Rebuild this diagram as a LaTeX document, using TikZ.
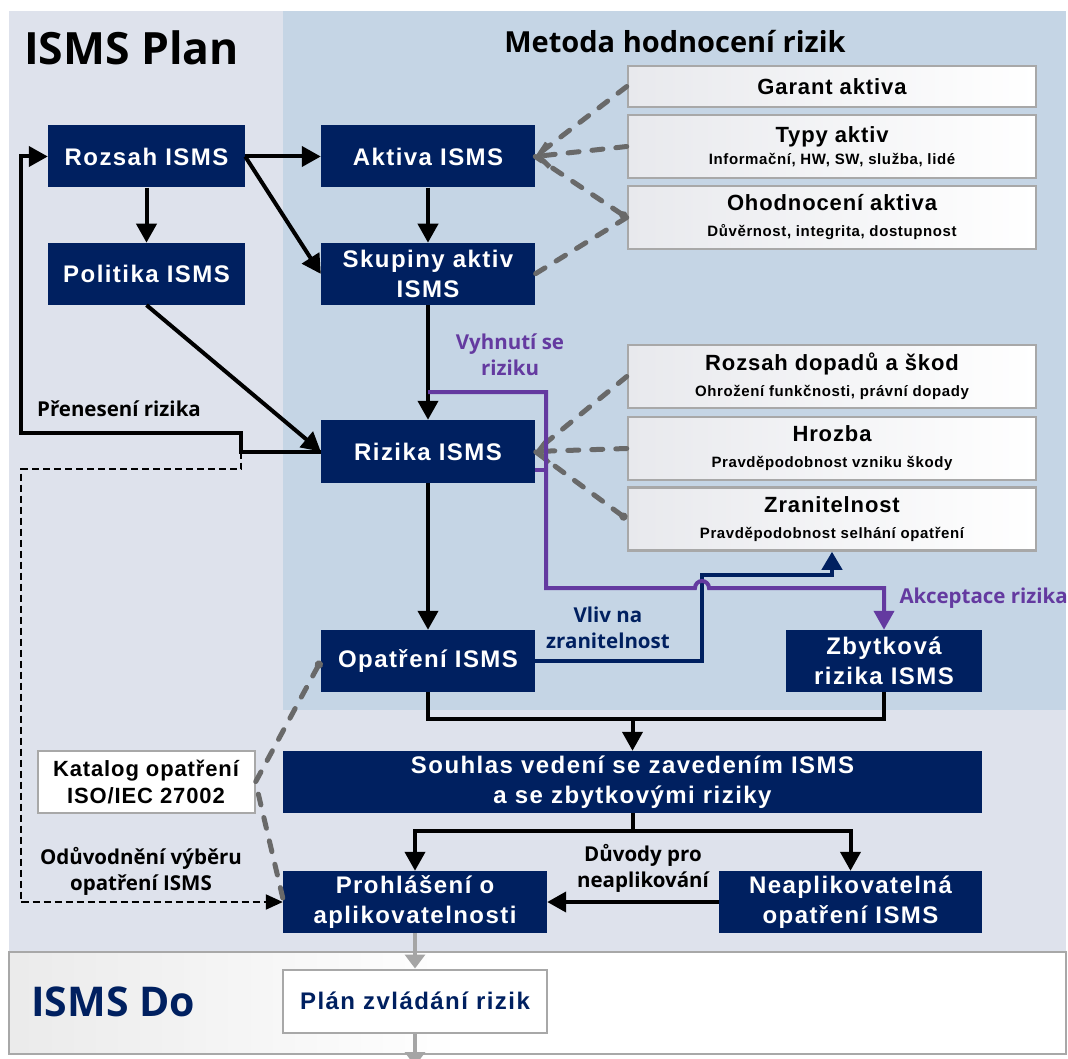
\documentclass[tikz,border=0pt]{standalone}
\usepackage{fontspec}
\setmainfont{Liberation Sans}
\newfontfamily\boxfont[LetterSpace=6]{Liberation Sans}
\newfontfamily\infofont[LetterSpace=4]{Liberation Sans}
\newfontfamily\headfont{Open Sans}
\usepackage{tikz}
\usetikzlibrary{arrows.meta,positioning}
\definecolor{navy}{RGB}{0,32,96}
\definecolor{planbg}{RGB}{222,226,236}
\definecolor{metodabg}{RGB}{197,213,229}
\definecolor{purp}{RGB}{100,58,160}
\definecolor{boxgray}{RGB}{168,168,168}
\definecolor{dashgray}{RGB}{105,105,105}
\definecolor{arrgray}{RGB}{165,165,165}
\definecolor{infogray}{RGB}{232,233,237}
\newcommand{\infosub}[1]{{\fontsize{15}{18}\selectfont #1}}
\tikzset{
  navybox/.style={rectangle, fill=navy, text=white, align=center, inner sep=0pt,
                  font=\boxfont\bfseries\fontsize{24}{30}\selectfont},
  whitebox/.style={rectangle, draw=boxgray, line width=2pt, fill=white, align=center,
                   inner sep=0pt, font=\infofont\bfseries\fontsize{22}{27}\selectfont},
  infobox/.style={rectangle, draw=boxgray, line width=2.5pt, left color=infogray,
                  right color=white, align=center, inner sep=0pt,
                  minimum width=408pt, minimum height=63pt,
                  font=\infofont\bfseries\fontsize{22}{26}\selectfont},
  lbl/.style={font=\headfont\bfseries\fontsize{20.5}{26}\selectfont, align=center, inner sep=0pt},
  headlbl/.style={font=\headfont\bfseries\fontsize{41}{48}\selectfont, inner sep=0pt},
  wire/.style={line width=4pt},
  arr/.style={-{Triangle[length=19pt,width=20pt]}, line width=4pt},
  purparr/.style={-{Triangle[length=19pt,width=20pt]}, draw=purp, line width=4pt},
  navyarr/.style={-{Triangle[length=18pt,width=20pt]}, draw=navy, line width=4pt},
  dasharr/.style={-{Triangle[length=17pt,width=15pt]}, line width=2pt, dash pattern=on 7pt off 4pt},
  grayarr/.style={-{Triangle[length=14pt,width=20pt]}, draw=arrgray, line width=4pt},
  link/.style={draw=dashgray, line width=5pt, dash pattern=on 11pt off 13pt, line cap=round},
  linkarr/.style={link, -{Straight Barb[length=10pt,width=24pt]}},
  linkdot/.style={link, {Circle[length=8pt]}-},
}
\begin{document}
\begin{tikzpicture}[x=1pt,y=-1pt]
  \useasboundingbox (0,0) rectangle (1068,1059);
  \fill[planbg] (9,11) rectangle (1066,952);
  \fill[metodabg] (283,11) rectangle (1066,710);
  \fill[white] (9,952) rectangle (1066,1054);
  \shade[left color=black!8, right color=white] (9,952) rectangle (460,1054);
  \draw[boxgray, line width=2pt] (9,952) rectangle (1066,1054);

  \node[headlbl, anchor=west, font=\headfont\bfseries\fontsize{44.5}{50}\selectfont] (plantitle) at (24,48) {ISMS Plan};
  \node[headlbl, anchor=west, text=navy] (dotitle) at (31,1002) {ISMS Do};
  \node[lbl, font=\headfont\bfseries\fontsize{29}{34}\selectfont] (metoda) at (675,42) {Metoda hodnocení rizik};

  \node[navybox, minimum width=197pt, minimum height=62pt] (rozsah) at (146.5,156.5) {Rozsah ISMS};
  \node[navybox, minimum width=197pt, minimum height=62pt, below=55pt of rozsah] (politika) {Politika ISMS};
  \node[navybox, minimum width=214pt, minimum height=62pt] (aktiva) at (428,156.5) {Aktiva ISMS};
  \node[navybox, minimum width=214pt, minimum height=62pt, below=55pt of aktiva] (skupiny) {Skupiny aktiv\\ISMS};
  \node[navybox, minimum width=214pt, minimum height=63pt] (rizika) at (428,451.5) {Rizika ISMS};
  \node[navybox, minimum width=214pt, minimum height=62pt] (opatreni) at (428,661) {Opatření ISMS};
  \node[navybox, minimum width=196pt, minimum height=62pt] (zbytkova) at (884,661) {Zbytková\\rizika ISMS};
  \node[navybox, minimum width=699pt, minimum height=62pt] (souhlas) at (632.5,782) {Souhlas vedení se zavedením ISMS\\a se zbytkovými riziky};
  \node[navybox, minimum width=264pt, minimum height=62pt] (prohlaseni) at (415,902) {Prohlášení o\\aplikovatelnosti};
  \node[navybox, minimum width=263pt, minimum height=62pt] (neapl) at (850.5,902) {Neaplikovatelná\\opatření ISMS};
  \node[whitebox, minimum width=217pt, minimum height=62pt] (katalog) at (146,782) {Katalog opatření\\ISO/IEC 27002};
  \node[whitebox, text=navy, minimum width=264pt, minimum height=63pt,
        font=\boxfont\bfseries\fontsize{24}{30}\selectfont] (plan) at (415,1001) {Plán zvládání rizik};

  \node[infobox, minimum height=41pt] (garant) at (832,86.5) {Garant aktiva};
  \node[infobox] (typy) at (832,146.5) {Typy aktiv\\[-4pt]\infosub{Informační, HW, SW, služba, lidé}};
  \node[infobox] (ohodnoceni) at (832,217.5) {Ohodnocení aktiva\\\infosub{Důvěrnost, integrita, dostupnost}};
  \node[infobox] (dopady) at (832,376.5) {Rozsah dopadů a škod\\\infosub{Ohrožení funkčnosti, právní dopady}};
  \node[infobox] (hrozba) at (832,448.5) {Hrozba\\\infosub{Pravděpodobnost vzniku škody}};
  \node[infobox] (zranitelnost) at (832,519) {Zranitelnost\\\infosub{Pravděpodobnost selhání opatření}};

  \node[lbl] (prenes) at (119,409) {Přenesení rizika};
  \node[lbl, text=purp] (vyhnuti) at (510,355) {Vyhnutí se\\riziku};
  \node[lbl, text=navy] (vliv) at (608,628) {Vliv na\\zranitelnost};
  \node[lbl, text=purp, anchor=east] (akceptace) at (1068,598) {Akceptace rizika};
  \node[lbl] (oduvodneni) at (141,871) {Odůvodnění výběru\\opatření ISMS};
  \node[lbl] (duvody) at (643,868) {Důvody pro\\neaplikování};

  \coordinate (vyhstart) at (428,392);
  \coordinate (jog) at (241,451.5);
  \coordinate (merge) at (632.5,719);
  \coordinate (split) at (632.5,831);
  \coordinate (doout) at (415,1066);

  \draw[linkarr] (typy.west) -- (aktiva.east);
  \draw[link] (garant.west) -- (aktiva.east);
  \draw[linkdot] (ohodnoceni.west) -- (aktiva.east);
  \draw[link] (ohodnoceni.west) -- (skupiny.east);
  \draw[link] (dopady.west) -- (rizika.east);
  \draw[linkarr] (hrozba.west) -- (rizika.east);
  \draw[linkdot] (zranitelnost.west) -- (rizika.east);
  \draw[linkdot] (opatreni.west) -- (katalog.east) -- ([yshift=4pt]prohlaseni.west);

  \draw[arr] (rozsah) -- (aktiva);
  \draw[arr] (rozsah.east) -- (skupiny.west);
  \draw[arr] (rozsah) -- (politika);
  \draw[arr] (aktiva) -- (skupiny);
  \draw[arr] (politika.south) -- (rizika.west);
  \draw[arr] (skupiny) -- (rizika);
  \draw[arr] (rizika) -- (opatreni);
  \draw[arr] (rizika.west) -- (jog) -- (241,433) -- (21,433) |- (rozsah.west);
  \draw[dasharr] (jog) -- (241,469) -- (21,469) |- (prohlaseni.west);

  \draw[navyarr] (opatreni.east) -| (702,575) -| (zranitelnost.south);
  \draw[draw=purp, line width=4pt] ([yshift=-18pt]rizika.east) -- ++(11,0);
  \draw[purparr] (vyhstart) -- (546,392) -- (546,588) -- (695,588)
    arc[start angle=180, end angle=0, radius=7pt] -| (zbytkova.north);

  \draw[wire] (opatreni.south) |- (merge) -| (zbytkova.south);
  \draw[arr] (merge) -- (souhlas.north);
  \draw[wire] (souhlas.south) -- (split);
  \draw[arr] (split) -| (prohlaseni.north);
  \draw[arr] (split) -| (neapl.north);
  \draw[arr] (neapl) -- (prohlaseni);

  \draw[grayarr] (prohlaseni) -- (plan);
  \draw[grayarr] (plan) -- (doout);
\end{tikzpicture}
\end{document}
